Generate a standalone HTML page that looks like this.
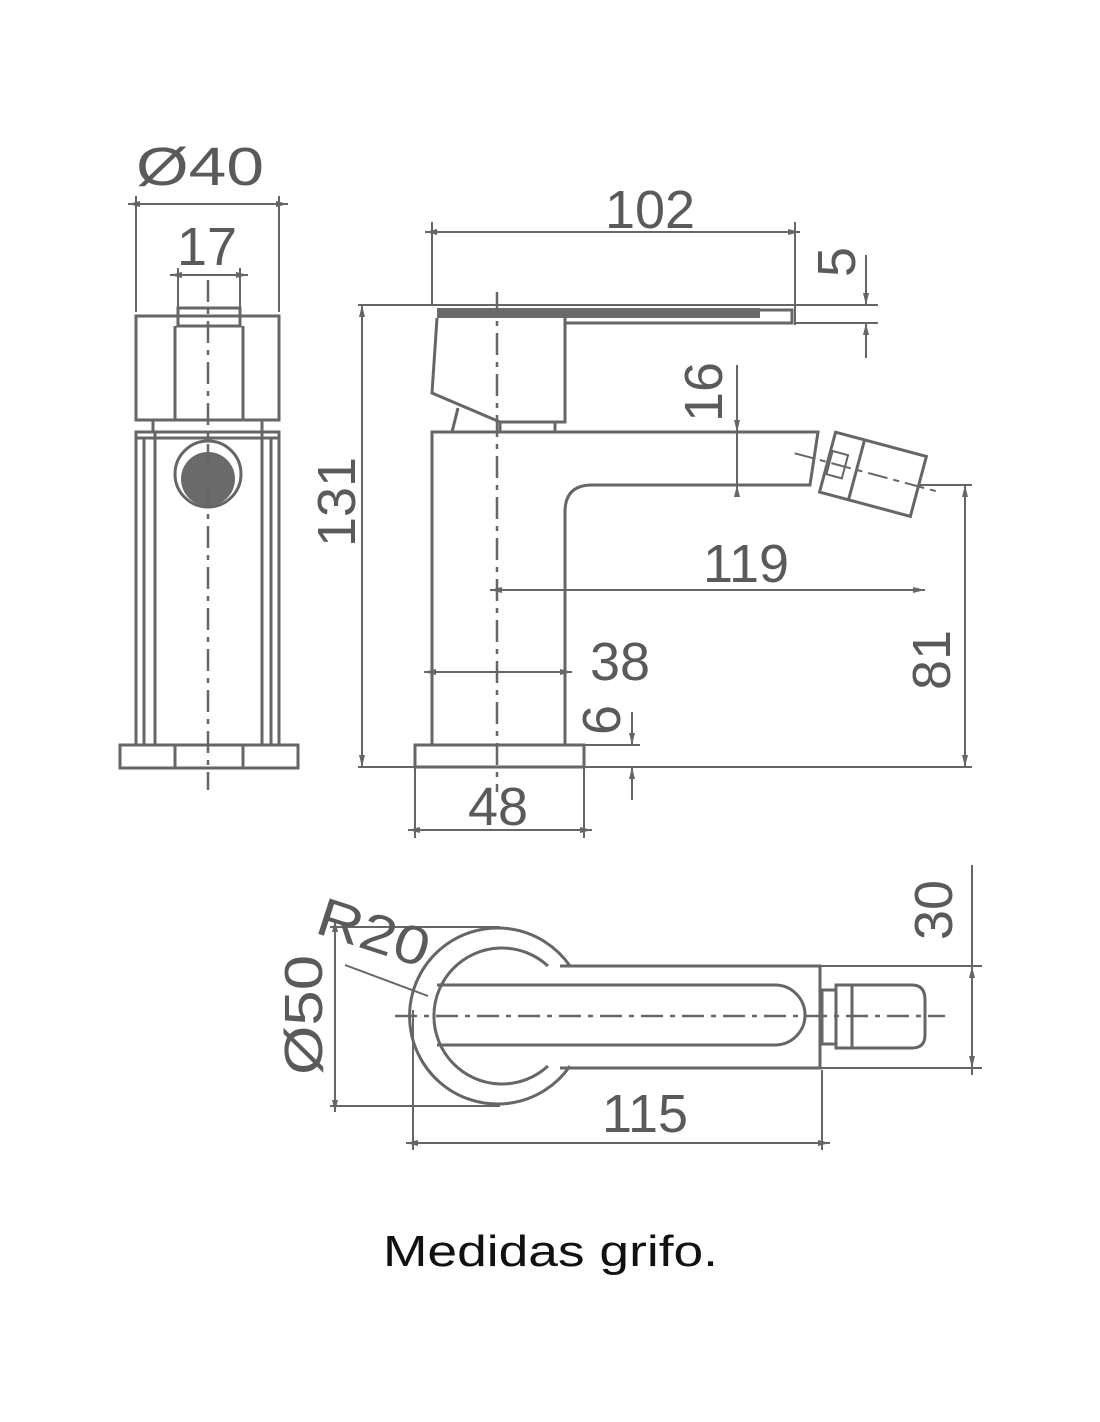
<!DOCTYPE html>
<html><head><meta charset="utf-8"><style>
html,body{margin:0;padding:0;background:#fff;}
svg{display:block;}
.s{fill:none;stroke:#666;stroke-width:3;}
.t{fill:none;stroke:#666;stroke-width:2;}
.c{fill:none;stroke:#666;stroke-width:2.5;stroke-dasharray:22 7 5 7;}
text{font-family:"Liberation Sans",sans-serif;fill:#5a5a5a;font-size:54px;}
</style></head><body>
<svg width="1100" height="1422" viewBox="0 0 1100 1422" xmlns="http://www.w3.org/2000/svg">
<defs>
<marker id="a" viewBox="0 0 12 6" refX="12" refY="3" markerWidth="12" markerHeight="6" markerUnits="userSpaceOnUse" orient="auto-start-reverse"><path d="M0,0 L12,3 L0,6 z" fill="#666"/></marker>
</defs>

<!-- SIDE VIEW -->
<text x="200" y="185" text-anchor="middle" textLength="128" lengthAdjust="spacingAndGlyphs">Ø40</text>
<line class="t" x1="136" y1="196" x2="136" y2="312"/><line class="t" x1="279" y1="196" x2="279" y2="312"/>
<line class="t" x1="128" y1="204" x2="288" y2="204" marker-start="url(#a)" marker-end="url(#a)"/>
<text x="207" y="265" text-anchor="middle">17</text>
<line class="t" x1="178" y1="268" x2="178" y2="312"/><line class="t" x1="240" y1="268" x2="240" y2="312"/>
<line class="t" x1="170" y1="275" x2="248" y2="275" marker-start="url(#a)" marker-end="url(#a)"/>
<rect class="s" x="136" y="316" width="143" height="104"/>
<rect class="s" x="178" y="308" width="62" height="18"/>
<line class="s" x1="175" y1="326" x2="175" y2="420"/><line class="s" x1="243" y1="326" x2="243" y2="420"/>
<line class="s" x1="153" y1="420" x2="153" y2="432"/><line class="s" x1="262" y1="420" x2="262" y2="432"/>
<rect class="s" x="136" y="432" width="143" height="313"/>
<line class="s" x1="136" y1="438" x2="279" y2="438"/>
<line class="s" x1="144" y1="438" x2="144" y2="745"/><line class="s" x1="155" y1="432" x2="155" y2="745"/>
<line class="s" x1="262" y1="432" x2="262" y2="745"/><line class="s" x1="271" y1="438" x2="271" y2="745"/>
<circle class="s" cx="208" cy="474" r="33"/>
<circle cx="208" cy="479" r="27" fill="#6a6a6a"/>
<rect class="s" x="120" y="745" width="178" height="23"/>
<line class="s" x1="175" y1="745" x2="175" y2="768"/><line class="s" x1="243" y1="745" x2="243" y2="768"/>
<line class="c" x1="208" y1="280" x2="208" y2="790"/>

<!-- FRONT VIEW -->
<text x="650" y="228" text-anchor="middle">102</text>
<line class="t" x1="432" y1="222" x2="432" y2="305"/><line class="t" x1="795" y1="222" x2="795" y2="325"/>
<line class="t" x1="425" y1="232" x2="800" y2="232" marker-start="url(#a)" marker-end="url(#a)"/>
<text transform="translate(855,262) rotate(-90)" text-anchor="middle">5</text>
<line class="t" x1="358" y1="305" x2="878" y2="305"/><line class="t" x1="795" y1="323" x2="878" y2="323"/>
<line class="t" x1="866" y1="255" x2="866" y2="305" marker-end="url(#a)"/>
<line class="t" x1="866" y1="358" x2="866" y2="323" marker-end="url(#a)"/>
<path d="M437,308 L760,308 L760,318 L437,318 z" fill="#6a6a6a"/>
<path class="s" d="M760,310 L792,310 L792,323 L565,323"/>
<path class="s" d="M437,318 L432,393 L500,422 L565,422 L565,318"/>
<line class="s" x1="452" y1="432" x2="458" y2="408"/>
<line class="s" x1="500" y1="422" x2="500" y2="432"/><line class="s" x1="555" y1="422" x2="555" y2="432"/>
<path class="s" d="M432,745 L432,432 L818,432 L810,485 L592,485 Q565,485 565,512 L565,745"/>
<g transform="translate(872,474) rotate(15)">
<rect class="s" x="-46" y="-31" width="94" height="62"/>
<line class="s" x1="-16" y1="-31" x2="-16" y2="31"/>
<rect class="t" x="-44" y="-12" width="16" height="24"/>
<line class="t" x1="-80" y1="0" x2="70" y2="0" stroke-dasharray="20 6 6 6"/>
</g>
<rect class="s" x="415" y="745" width="169" height="22"/>
<line class="t" x1="358" y1="767" x2="972" y2="767"/>
<line class="c" x1="497" y1="292" x2="497" y2="792"/>
<text transform="translate(355,502) rotate(-90)" text-anchor="middle">131</text>
<line class="t" x1="362" y1="305" x2="362" y2="767" marker-start="url(#a)" marker-end="url(#a)"/>
<text transform="translate(722,392) rotate(-90)" text-anchor="middle">16</text>
<line class="t" x1="600" y1="485" x2="760" y2="485"/>
<line class="t" x1="737" y1="365" x2="737" y2="432" marker-end="url(#a)"/>
<line class="t" x1="737" y1="497" x2="737" y2="485" marker-end="url(#a)"/>
<line class="t" x1="737" y1="432" x2="737" y2="485"/>
<text x="746" y="582" text-anchor="middle">119</text>
<line class="t" x1="490" y1="590" x2="925" y2="590" marker-start="url(#a)" marker-end="url(#a)"/>
<line class="t" x1="920" y1="485" x2="972" y2="485"/>
<text transform="translate(950,660) rotate(-90)" text-anchor="middle">81</text>
<line class="t" x1="965" y1="485" x2="965" y2="767" marker-start="url(#a)" marker-end="url(#a)"/>
<text x="620" y="680" text-anchor="middle">38</text>
<line class="t" x1="424" y1="672" x2="572" y2="672" marker-start="url(#a)" marker-end="url(#a)"/>
<text transform="translate(620,720) rotate(-90)" text-anchor="middle">6</text>
<line class="t" x1="584" y1="745" x2="640" y2="745"/>
<line class="t" x1="632" y1="712" x2="632" y2="745" marker-end="url(#a)"/>
<line class="t" x1="632" y1="800" x2="632" y2="767" marker-end="url(#a)"/>
<text x="498" y="825" text-anchor="middle">48</text>
<line class="t" x1="415" y1="767" x2="415" y2="838"/><line class="t" x1="584" y1="767" x2="584" y2="838"/>
<line class="t" x1="408" y1="830" x2="592" y2="830" marker-start="url(#a)" marker-end="url(#a)"/>

<!-- TOP VIEW -->
<path class="s" d="M570,966 A88,88 0 1 0 570,1066"/>
<path class="s" d="M548,966 A68,68 0 1 0 548,1066"/>
<path class="s" d="M560,966 L820,966 L820,1068 L560,1068"/>
<path class="s" d="M437,985 L775,985 A30,30 0 0 1 775,1045 L437,1045"/>
<rect class="s" x="822" y="990" width="14" height="54"/>
<path class="s" d="M836,985 L912,985 Q925,985 925,1000 L925,1035 Q925,1048 912,1048 L836,1048 z"/>
<line class="s" x1="852" y1="985" x2="852" y2="1048"/>
<line class="c" x1="395" y1="1016" x2="945" y2="1016"/>
<text transform="translate(322,1015) rotate(-90)" text-anchor="middle" textLength="120" lengthAdjust="spacingAndGlyphs">Ø50</text>
<line class="t" x1="330" y1="927" x2="500" y2="927"/><line class="t" x1="330" y1="1106" x2="500" y2="1106"/>
<line class="t" x1="335" y1="920" x2="335" y2="1112" marker-start="url(#a)" marker-end="url(#a)"/>
<text transform="translate(368,950) rotate(18)" text-anchor="middle" textLength="115" lengthAdjust="spacingAndGlyphs">R20</text>
<line class="t" x1="345" y1="965" x2="428" y2="996"/>
<text x="645" y="1132" text-anchor="middle">115</text>
<line class="t" x1="413" y1="1010" x2="413" y2="1150"/><line class="t" x1="822" y1="1070" x2="822" y2="1150"/>
<line class="t" x1="406" y1="1143" x2="830" y2="1143" marker-start="url(#a)" marker-end="url(#a)"/>
<text transform="translate(952,910) rotate(-90)" text-anchor="middle">30</text>
<line class="t" x1="820" y1="966" x2="982" y2="966"/><line class="t" x1="820" y1="1068" x2="982" y2="1068"/>
<line class="t" x1="972" y1="865" x2="972" y2="1075" />
<line class="t" x1="972" y1="1000" x2="972" y2="966" marker-end="url(#a)"/>
<line class="t" x1="972" y1="1035" x2="972" y2="1068" marker-end="url(#a)"/>

<text x="383" y="1266" style="fill:#111;font-size:44px" textLength="335" lengthAdjust="spacingAndGlyphs">Medidas grifo.</text>
</svg>
</body></html>
